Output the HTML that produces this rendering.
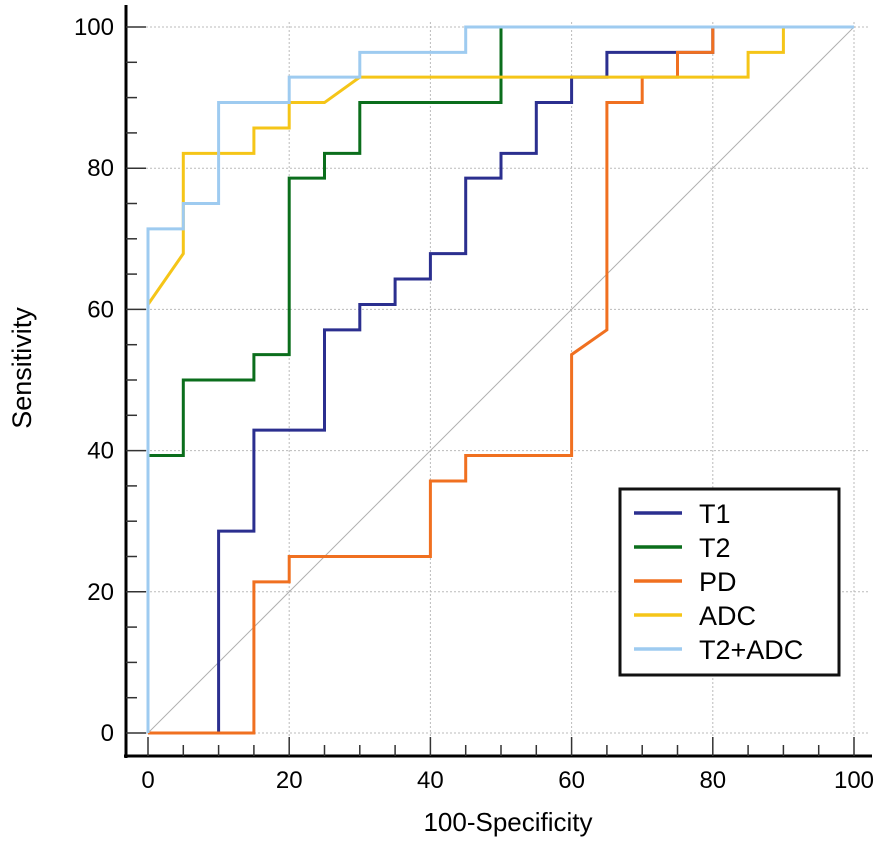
<!DOCTYPE html>
<html><head><meta charset="utf-8"><style>
body{margin:0;background:#fff;}
svg{display:block;font-family:"Liberation Sans",sans-serif;}
</style></head><body>
<svg id="chart" width="886" height="844"></svg>
<script>
const xTicks=[0,20,40,60,80,100];
const yTicks=[0,20,40,60,80,100];
const seriesNames=["T1","T2","PD","ADC","T2+ADC"];
const seriesColors=["#2b2f8f","#0b6e1c","#f07020","#f5c518","#9ecbf0"];
const t1X=[0,10,10,15,15,25,25,30,30,35,35,40,40,45,45,50,50,55,55,60,60,65,65,75,80,80,100];
const t1Y=[0,0,28.6,28.6,42.9,42.9,57.1,57.1,60.7,60.7,64.3,64.3,67.9,67.9,78.6,78.6,82.1,82.1,89.3,89.3,92.9,92.9,96.4,96.4,96.4,100,100];
const t2X=[0,0,5,5,15,15,20,20,25,25,30,30,50,50,100];
const t2Y=[0,39.3,39.3,50,50,53.6,53.6,78.6,78.6,82.1,82.1,89.3,89.3,100,100];
const pdX=[0,15,15,20,20,40,40,45,45,60,60,65,65,70,70,75,75,80,80,100];
const pdY=[0,0,21.4,21.4,25,25,35.7,35.7,39.3,39.3,53.6,57.1,89.3,89.3,92.9,92.9,96.4,96.4,100,100];
const adcX=[0,0,5,5,15,15,20,20,25,30,85,85,90,90,100];
const adcY=[0,60.7,67.9,82.1,82.1,85.7,85.7,89.3,89.3,92.9,92.9,96.4,96.4,100,100];
const t2adcX=[0,0,5,5,10,10,20,20,30,30,45,45,100];
const t2adcY=[0,71.4,71.4,75,75,89.3,89.3,92.9,92.9,96.4,96.4,100,100];
const seriesXs=[t1X,t2X,pdX,adcX,t2adcX];
const seriesYs=[t1Y,t2Y,pdY,adcY,t2adcY];

const NS="http://www.w3.org/2000/svg";
const svg=document.getElementById('chart');
const X0=148,X1=854,Y0=733,Y1=27;
const sx=v=>X0+(X1-X0)*v/100;
const sy=v=>Y0-(Y0-Y1)*v/100;
function mk(tag,attrs,parent){const e=document.createElementNS(NS,tag);for(const k in attrs)e.setAttribute(k,attrs[k]);(parent||svg).appendChild(e);return e;}

xTicks.forEach(t=>{if(t===0)return;const l=mk('line',{x1:sx(t),x2:sx(t),y1:Y1-5,y2:Y0+8,stroke:'#bbb','stroke-dasharray':'2,2','stroke-width':1});

});
yTicks.forEach(t=>{const l=mk('line',{x1:sx(0)-2,x2:sx(100)+15,y1:sy(t),y2:sy(t),stroke:'#bbb','stroke-dasharray':'2,2','stroke-width':1});

});
const dg=mk('line',{x1:sx(0),y1:sy(0),x2:sx(100),y2:sy(100),stroke:'#b0b0b0','stroke-width':1});


const ya=mk('line',{x1:126,x2:126,y1:5,y2:758,stroke:'#000','stroke-width':3});


const xa=mk('line',{x1:124,x2:872,y1:756,y2:756,stroke:'#000','stroke-width':3});


for(let v=0;v<=100;v+=5){
  const maj=v%20===0;
  const a=mk('line',{x1:126,x2:maj?146:137,y1:sy(v),y2:sy(v),stroke:'#333','stroke-width':1.5});
  
  
  const b=mk('line',{x1:sx(v),x2:sx(v),y1:756,y2:maj?737:745,stroke:'#333','stroke-width':1.5});
  
  
}
yTicks.forEach(t=>{const e=mk('text',{x:114,y:sy(t)+8,'text-anchor':'end','font-size':24});e.textContent=t;

});
xTicks.forEach(t=>{const e=mk('text',{x:sx(t),y:788,'text-anchor':'middle','font-size':24});e.textContent=t;

});
const xt=mk('text',{x:508,y:831,'text-anchor':'middle','font-size':26});xt.textContent='100-Specificity';


const yt=mk('text',{x:0,y:0,'text-anchor':'middle','font-size':27,transform:'translate(31,368) rotate(-90)'});yt.textContent='Sensitivity';


seriesNames.forEach((n,i)=>{
  const pts=seriesXs[i].map((x,j)=>sx(x)+','+sy(seriesYs[i][j])).join(' ');
  const p=mk('polyline',{points:pts,fill:'none',stroke:seriesColors[i],'stroke-width':3,'stroke-linejoin':'miter'});
  
  
});
const lg=mk('g',{});


mk('rect',{x:620,y:489,width:219,height:186,fill:'#fff',stroke:'#111','stroke-width':3},lg);
seriesNames.forEach((n,i)=>{
  const yy=513+i*34;
  const g=mk('g',{},lg);
  
  
  mk('line',{x1:634,x2:682,y1:yy,y2:yy,stroke:seriesColors[i],'stroke-width':3.5},g);
  const t=mk('text',{x:699,y:yy+10,'font-size':27},g);t.textContent=n;
});
</script>
</body></html>
